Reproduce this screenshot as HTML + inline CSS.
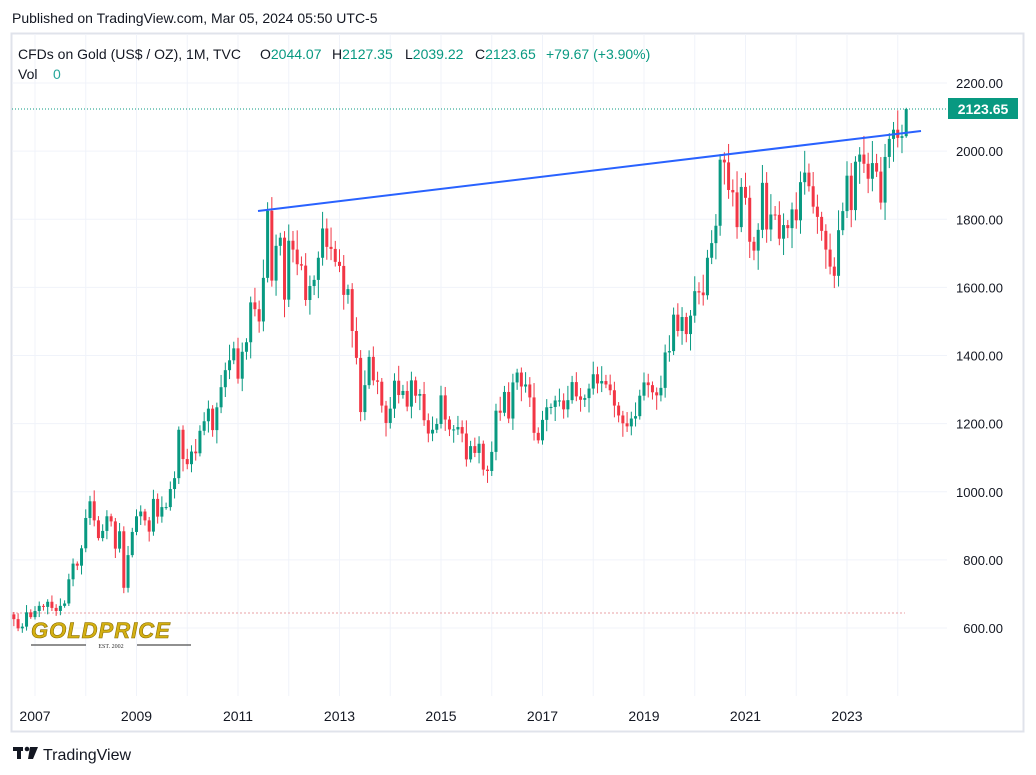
<!DOCTYPE html>
<html><head><meta charset="utf-8"><style>
body{margin:0;background:#fff;width:1036px;height:775px;overflow:hidden;font-family:"Liberation Sans",sans-serif;}
svg{position:absolute;left:0;top:0}
</style></head><body>
<svg id="s" width="1036" height="775" xmlns="http://www.w3.org/2000/svg" font-family="Liberation Sans, sans-serif"></svg>
<script>
const d=[626,599,604,646,632,
650,665,662,677,659,650,665,672,743,789,783,834,
923,972,916,864,885,928,913,833,884,718,814,882,
928,942,916,883,979,927,955,955,1008,1040,1182,1096,
1081,1118,1113,1179,1207,1244,1181,1248,1307,1357,1386,1421,
1332,1411,1439,1556,1536,1500,1628,1825,1620,1722,1746,1564,
1737,1711,1668,1664,1563,1604,1622,1687,1773,1719,1713,1675,
1663,1578,1595,1472,1393,1234,1313,1396,1327,1323,1253,1202,
1244,1326,1284,1296,1250,1327,1282,1287,1210,1171,1182,1199,
1283,1212,1183,1183,1190,1171,1095,1134,1114,1141,1065,1061,
1117,1238,1232,1293,1215,1321,1350,1309,1315,1277,1173,1151,
1211,1248,1249,1268,1268,1242,1269,1322,1280,1270,1275,1303,
1345,1318,1325,1315,1298,1253,1224,1201,1192,1215,1222,1282,
1321,1313,1292,1283,1305,1409,1413,1520,1472,1513,1463,1517,
1589,1585,1577,1687,1730,1781,1975,1967,1886,1879,1777,1895,
1863,1734,1708,1769,1907,1770,1814,1813,1743,1783,1774,1829,
1797,1909,1937,1897,1837,1807,1766,1711,1661,1634,1768,1824,
1928,1827,1969,1990,1963,1919,1965,1940,1849,1983,2036,2063,
2039,2044,2123.65];
const Y=p=>628-(p-600)*0.3406, X=i=>35+((i-5)/12)*50.75;
let h='';
h+='<rect x="11.5" y="33.5" width="1012" height="698" fill="none" stroke="#e0e3eb" stroke-width="2"/>';
for(let p=600;p<=2200;p+=200){h+=`<line x1="12" x2="947" y1="${Y(p)}" y2="${Y(p)}" stroke="#f0f3fa"/>`;
h+=`<text x="1003" y="${Y(p)+5}" font-size="13" fill="#131722" text-anchor="end">${p.toFixed(2)}</text>`;}
for(let y=2007;y<=2023;y+=2){const x=35+(y-2007)*50.75;h+=`<line x1="${x}" x2="${x}" y1="34" y2="696" stroke="#f0f3fa"/>`;
h+=`<text x="${x}" y="721" font-size="14" fill="#131722" text-anchor="middle">${y}</text>`;}
for(let y=2008;y<=2024;y+=2){const x=35+(y-2007)*50.75;h+=`<line x1="${x}" x2="${x}" y1="34" y2="696" stroke="#f0f3fa"/>`;}
h+='<line x1="12" x2="905" y1="613" y2="613" stroke="#e9a0a6" stroke-dasharray="2,2"/>';
const hl=[.02,.05,.03,.06,.025,.04,.035,.015];
for(let i=0;i<d.length;i++){
 const c=d[i];const op=i==0?640:d[i-1];const up=c>=op;const col=up?'#089981':'#f23645';
 let hi=Math.max(op,c)*(1+hl[i%8]*0.55),lo=Math.min(op,c)*(1-hl[(i+3)%8]*0.55);
 if(i==d.length-1){hi=2127.35;lo=2039.22;}
 const x=X(i);
 h+=`<line x1="${x}" x2="${x}" y1="${Y(hi)}" y2="${Y(lo)}" stroke="${col}"/>`;
 const t=Y(Math.max(op,c)),b=Y(Math.min(op,c));
 h+=`<rect x="${x-1.5}" y="${t}" width="3" height="${Math.max(1,b-t)}" fill="${col}"/>`;
}
h+='<line x1="12" x2="947" y1="109" y2="109" stroke="#089981" stroke-dasharray="1,2"/>';
h+='<line x1="258" y1="211" x2="921" y2="131" stroke="#2962ff" stroke-width="2"/>';
h+='<rect x="948" y="98" width="70" height="21" fill="#089981"/><text x="983" y="114" font-size="14" font-weight="bold" fill="#fff" text-anchor="middle">2123.65</text>';
h+='<text x="12" y="23" font-size="14" fill="#131722">Published on TradingView.com, Mar 05, 2024 05:50 UTC-5</text>';
const g='#089981';
h+=`<text y="59" font-size="14" fill="#131722"><tspan x="18">CFDs on Gold (US$ / OZ), 1M, TVC</tspan><tspan x="260">O</tspan><tspan fill="${g}">2044.07</tspan><tspan x="332">H</tspan><tspan fill="${g}">2127.35</tspan><tspan x="405">L</tspan><tspan fill="${g}">2039.22</tspan><tspan x="475">C</tspan><tspan fill="${g}">2123.65</tspan><tspan x="546" fill="${g}">+79.67 (+3.90%)</tspan></text>`;
h+='<text x="18" y="79" font-size="14" fill="#131722">Vol<tspan x="53" fill="#26a69a">0</tspan></text>';
h+='<text x="31" y="638" font-size="22" font-weight="bold" font-style="italic" fill="#d4b012" stroke="#8a6d00" stroke-width="0.6" letter-spacing="1">GOLDPRICE</text>';
h+='<line x1="31" x2="86" y1="645" y2="645" stroke="#222"/><line x1="137" x2="191" y1="645" y2="645" stroke="#222"/><text x="111" y="648" font-size="6" fill="#333" text-anchor="middle" font-family="Liberation Serif">EST. 2002</text>';
h+='<rect x="13" y="747" width="10" height="4" fill="#131722"/><rect x="17" y="747" width="4" height="12" fill="#131722"/><circle cx="27" cy="749" r="2.3" fill="#131722"/><path d="M30 747h8l-5 12h-5z" fill="#131722"/>';
h+='<text x="43" y="760" font-size="16" fill="#131722">TradingView</text>';
document.getElementById('s').innerHTML=h;
</script>
</body></html>
